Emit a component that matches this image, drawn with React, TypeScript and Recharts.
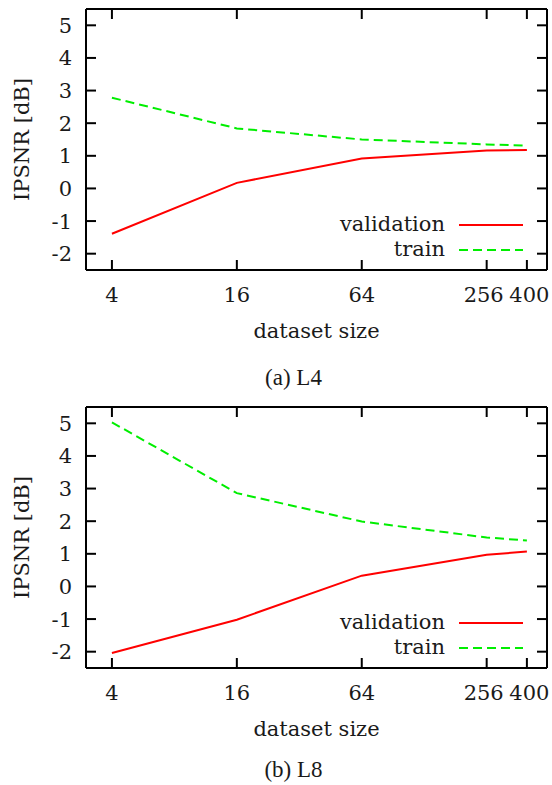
import React from 'react'
import { LineChart, Line, XAxis, YAxis, Legend } from 'recharts'

// dataset sizes on the x axis (log scale)
const sizes = [4, 16, 64, 256, 400]
const yTicks = [-2, -1, 0, 1, 2, 3, 4, 5]
const seriesOrder = ['validation', 'train']

// (a) L4
const l4Validation = [-1.39, 0.17, 0.92, 1.16, 1.18]
const l4Train = [2.78, 1.84, 1.5, 1.35, 1.31]

// (b) L8
const l8Validation = [-2.04, -1.02, 0.33, 0.97, 1.07]
const l8Train = [5.03, 2.86, 1.99, 1.5, 1.41]

const FONT = 'DejaVu Serif'
const FS = 21
const TEXT = '#1a1a1a'
const RED = '#ff0000'
const GREEN = '#00ee00'

const frame = { stroke: '#000', strokeWidth: 2 }
const tickStyle = { fontFamily: FONT, fontSize: FS, fill: TEXT }

// the two last labels sit close together, nudge them apart a little
const xTickShift = (v: number) => (v === 256 ? -3 : v === 400 ? 2.5 : 0)

const XTick = (props: any) => (
  <text
    x={props.x + xTickShift(props.payload.value)}
    y={props.y}
    dy="0.71em"
    textAnchor="middle"
    fontFamily={FONT}
    fontSize={FS}
    fill={TEXT}
  >
    {props.payload.value}
  </text>
)

const renderLegend = (props: any) => {
  const items = [...(props.payload || [])].sort(
    (a: any, b: any) => seriesOrder.indexOf(a.value) - seriesOrder.indexOf(b.value)
  )
  return (
    <div style={{ fontFamily: FONT, fontSize: FS, color: TEXT, lineHeight: '25px' }}>
      {items.map((entry: any) => (
        <div
          key={entry.value}
          style={{ display: 'flex', alignItems: 'center', justifyContent: 'flex-end', height: 25 }}
        >
          <span>{entry.value}</span>
          <svg width={64} height={4} style={{ marginLeft: 14 }}>
            <line
              x1={0}
              y1={2}
              x2={64}
              y2={2}
              stroke={entry.color}
              strokeWidth={2}
              strokeDasharray={entry.payload?.strokeDasharray}
            />
          </svg>
        </div>
      ))}
    </div>
  )
}

function Panel({ validation, train, caption, captionY, top }: any) {
  const data = sizes.map((s, i) => ({ size: s, validation: validation[i], train: train[i] }))

  const yLabel = ({ viewBox }: any) => {
    const cx = 29
    const cy = viewBox.y + viewBox.height / 2
    return (
      <text
        x={cx}
        y={cy}
        transform={`rotate(-90 ${cx} ${cy})`}
        textAnchor="middle"
        fontFamily={FONT}
        fontSize={FS}
        fill={TEXT}
      >
        IPSNR [dB]
      </text>
    )
  }

  const xLabel = ({ viewBox }: any) => (
    <g>
      <text
        x={viewBox.x + viewBox.width / 2}
        y={viewBox.y + 68}
        textAnchor="middle"
        fontFamily={FONT}
        fontSize={FS}
        fill={TEXT}
      >
        dataset size
      </text>
      <text
        x={293.5}
        y={captionY}
        textAnchor="middle"
        fontFamily="Liberation Serif"
        fontSize={23}
        fill={TEXT}
      >
        {caption}
      </text>
    </g>
  )

  return (
    <div style={{ position: 'absolute', left: 0, top, width: 552, height: 398 }}>
      <LineChart width={552} height={398} data={data} margin={{ top: 8, right: 4, bottom: 0, left: 0 }}>
        <XAxis
          xAxisId="b"
          dataKey="size"
          type="number"
          scale="log"
          domain={[3, 500]}
          allowDataOverflow
          ticks={sizes}
          height={128}
          tickSize={-10}
          tickMargin={26.8}
          axisLine={frame}
          tickLine={frame}
          tick={XTick}
          label={xLabel}
        />
        <XAxis
          xAxisId="t"
          orientation="top"
          dataKey="size"
          type="number"
          scale="log"
          domain={[3, 500]}
          allowDataOverflow
          ticks={sizes}
          height={1}
          tickSize={-10}
          axisLine={frame}
          tickLine={frame}
          tickFormatter={() => ''}
        />
        <YAxis
          yAxisId="l"
          type="number"
          domain={[-2.5, 5.5]}
          allowDataOverflow
          ticks={yTicks}
          width={86}
          tickSize={-10}
          tickMargin={24}
          axisLine={frame}
          tickLine={frame}
          tick={tickStyle}
          tickFormatter={(v: number) => String(v)}
          label={yLabel}
        />
        <YAxis
          yAxisId="r"
          orientation="right"
          type="number"
          domain={[-2.5, 5.5]}
          allowDataOverflow
          ticks={yTicks}
          width={1}
          tickSize={-10}
          axisLine={frame}
          tickLine={frame}
          tickFormatter={() => ''}
        />
        <Line
          xAxisId="b"
          yAxisId="l"
          type="linear"
          dataKey="validation"
          name="validation"
          stroke={RED}
          strokeWidth={2}
          dot={false}
          isAnimationActive={false}
        />
        <Line
          xAxisId="t"
          yAxisId="r"
          type="linear"
          dataKey="train"
          name="train"
          stroke={GREEN}
          strokeWidth={2}
          strokeDasharray="9 5"
          dot={false}
          isAnimationActive={false}
        />
        <Legend
          layout="horizontal"
          verticalAlign="middle"
          align="center"
          content={renderLegend}
          wrapperStyle={{ position: 'absolute', left: 300, top: 212, width: 223 }}
        />
      </LineChart>
    </div>
  )
}

export default function App() {
  return (
    <div
      style={{
        position: 'fixed',
        left: 0,
        top: 0,
        width: 552,
        height: 785,
        overflow: 'hidden',
        background: '#fff',
      }}
    >
      <Panel validation={l4Validation} train={l4Train} caption="(a) L4" captionY={385} top={0} />
      <Panel validation={l8Validation} train={l8Train} caption="(b) L8" captionY={379} top={398} />
    </div>
  )
}
